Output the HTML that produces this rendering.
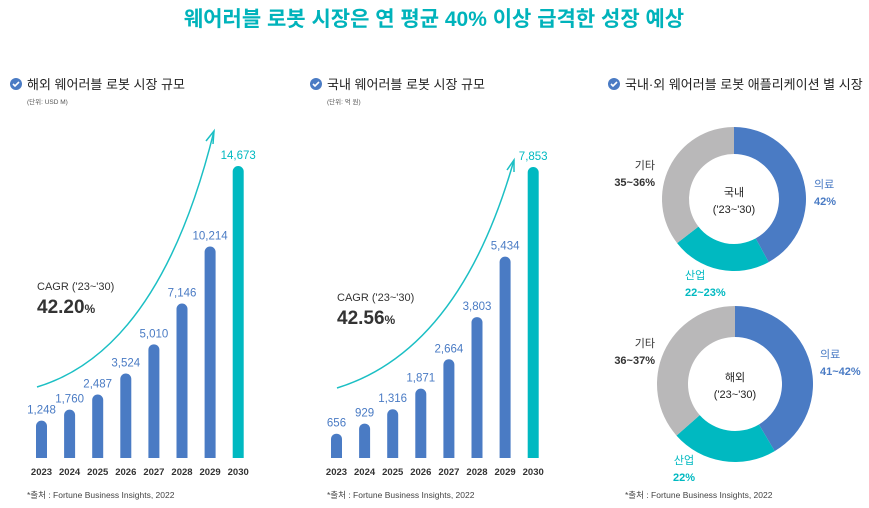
<!DOCTYPE html>
<html><head><meta charset="utf-8">
<style>
body{margin:0;background:#fff;width:869px;height:508px;overflow:hidden;font-family:"Liberation Sans","Noto Sans CJK KR",sans-serif;}
svg{position:absolute;left:0;top:0}
</style></head>
<body>
<svg id="c" width="869" height="508" xmlns="http://www.w3.org/2000/svg" font-family="Liberation Sans, Noto Sans CJK KR, sans-serif">
<text x="434" y="26" text-anchor="middle" font-size="21" font-weight="bold" fill="#00b3bb">웨어러블 로봇 시장은 연 평균 40% 이상 급격한 성장 예상</text>
<g>
<circle cx="16" cy="84" r="6" fill="#4a7bc4"/><path d="M13 84l2 2 4-4" stroke="#fff" stroke-width="1.6" fill="none"/>
<text x="27" y="89" font-size="13" fill="#222">해외 웨어러블 로봇 시장 규모</text>
<text x="27" y="104" font-size="6.5" fill="#555">(단위: USD M)</text></g>
<g>
<circle cx="316" cy="84" r="6" fill="#4a7bc4"/><path d="M313 84l2 2 4-4" stroke="#fff" stroke-width="1.6" fill="none"/>
<text x="327" y="89" font-size="13" fill="#222">국내 웨어러블 로봇 시장 규모</text>
<text x="327" y="104" font-size="6.5" fill="#555">(단위: 억 원)</text></g>
<g>
<circle cx="614" cy="84" r="6" fill="#4a7bc4"/><path d="M611 84l2 2 4-4" stroke="#fff" stroke-width="1.6" fill="none"/>
<text x="625" y="89" font-size="13" fill="#222">국내·외 웨어러블 로봇 애플리케이션 별 시장</text></g>

<path d="M37 387 Q160 350 214 131" stroke="#1bbfc4" stroke-width="1.5" fill="none"/>
<path d="M206 141 L214 131 L213 144" stroke="#1bbfc4" stroke-width="1.5" fill="none"/>
<path d="M337 388 Q460 350 514 160" stroke="#1bbfc4" stroke-width="1.5" fill="none"/>
<path d="M507 170 L514 160 L514 172" stroke="#1bbfc4" stroke-width="1.5" fill="none"/>

<text x="37" y="290" font-size="11" fill="#333">CAGR ('23~'30)</text>
<text x="37" y="313" font-size="19" font-weight="bold" fill="#333">42.20<tspan font-size="12">%</tspan></text>
<text x="337" y="301" font-size="11" fill="#333">CAGR ('23~'30)</text>
<text x="337" y="324" font-size="19" font-weight="bold" fill="#333">42.56<tspan font-size="12">%</tspan></text>

<text x="27" y="498" font-size="8.5" fill="#444">*출처 : Fortune Business Insights, 2022</text>
<text x="327" y="498" font-size="8.5" fill="#444">*출처 : Fortune Business Insights, 2022</text>
<text x="625" y="498" font-size="8.5" fill="#444">*출처 : Fortune Business Insights, 2022</text>
<g id="marks"></g>
</svg>
<script>
const years=["2023","2024","2025","2026","2027","2028","2029","2030"];
const globalVals=[1248,1760,2487,3524,5010,7146,10214,14673];
const globalLabels=["1,248","1,760","2,487","3,524","5,010","7,146","10,214","14,673"];
const domesticVals=[656,929,1316,1871,2664,3803,5434,7853];
const domesticLabels=["656","929","1,316","1,871","2,664","3,803","5,434","7,853"];
const donutCats=["의료","산업","기타"];
const donutDomestic=[42,22.5,35.5];
const donutDomesticLabels=["42%","22~23%","35~36%"];
const donutGlobal=[41.5,22,36.5];
const donutGlobalLabels=["41~42%","22%","36~37%"];

const NS="http://www.w3.org/2000/svg";
const g=document.getElementById("marks");
function el(t,a,txt){const e=document.createElementNS(NS,t);for(const k in a)e.setAttribute(k,a[k]);if(txt!==undefined)e.textContent=txt;g.appendChild(e);return e;}
const base=458;
function barChart(x0,vals,labels,scaleH,key){
  const maxV=Math.max(...vals);
  vals.forEach((v,i)=>{
    const cx=x0+i*28.1;
    const h=scaleH(v,maxV);
    const last=i===vals.length-1;
    const col=last?"#00b9c1":"#4a7bc4";
    const r=el("path",{d:`M${cx-5.5} ${base} V${base-h+5.5} A5.5 5.5 0 0 1 ${cx+5.5} ${base-h+5.5} V${base} Z`,fill:col});
    
    
    const t=el("text",{x:cx,y:base-h-7,"text-anchor":"middle","font-size":"11.5",fill:col},labels[i]);
    
    
    const y=el("text",{x:cx,y:475,"text-anchor":"middle","font-size":"9.5","font-weight":"bold",fill:"#333"},years[i]);
    
    
  });
}
barChart(41.5,globalVals,globalLabels,(v,m)=>8+Math.pow(v/m,0.92)*284,"global");
barChart(336.5,domesticVals,domesticLabels,(v,m)=>v/m*291,"domestic");

const colors=["#4a7bc4","#00b9c1","#b9b8b9"];
function donut(cx,cy,R,r,vals,labels,center,key,pos){
  const tot=vals.reduce((a,b)=>a+b,0);let a0=0;
  vals.forEach((v,i)=>{
    const a1=a0+v/tot*2*Math.PI;
    const p=(a,rr)=>[cx+rr*Math.sin(a),cy-rr*Math.cos(a)];
    const [x1,y1]=p(a0,R),[x2,y2]=p(a1,R),[x3,y3]=p(a1,r),[x4,y4]=p(a0,r);
    const lg=(a1-a0)>Math.PI?1:0;
    const s=el("path",{d:`M${x1} ${y1}A${R} ${R} 0 ${lg} 1 ${x2} ${y2}L${x3} ${y3}A${r} ${r} 0 ${lg} 0 ${x4} ${y4}Z`,fill:colors[i]});
    
    
    const tc=i===2?"#333":colors[i];
    const [lx,ly,anc]=pos[i];
    const t1=el("text",{x:lx,y:ly,"text-anchor":anc,"font-size":"11",fill:tc},donutCats[i]);
    
    
    const t2=el("text",{x:lx,y:ly+17,"text-anchor":anc,"font-size":"11","font-weight":"bold",fill:tc},labels[i]);
    
    
    a0=a1;
  });
  const c1=el("text",{x:cx,y:cy-3,"text-anchor":"middle","font-size":"11",fill:"#222"},center);
  
  
  const c2=el("text",{x:cx,y:cy+14,"text-anchor":"middle","font-size":"11",fill:"#222"},"('23~'30)");
  
  
}
donut(734,199,72,45,donutDomestic,donutDomesticLabels,"국내","domestic",[[814,188,"start"],[685,279,"start"],[655,169,"end"]]);
donut(735,384,78,47,donutGlobal,donutGlobalLabels,"해외","global",[[820,358,"start"],[684,464,"middle"],[655,347,"end"]]);
</script>
</body></html>
